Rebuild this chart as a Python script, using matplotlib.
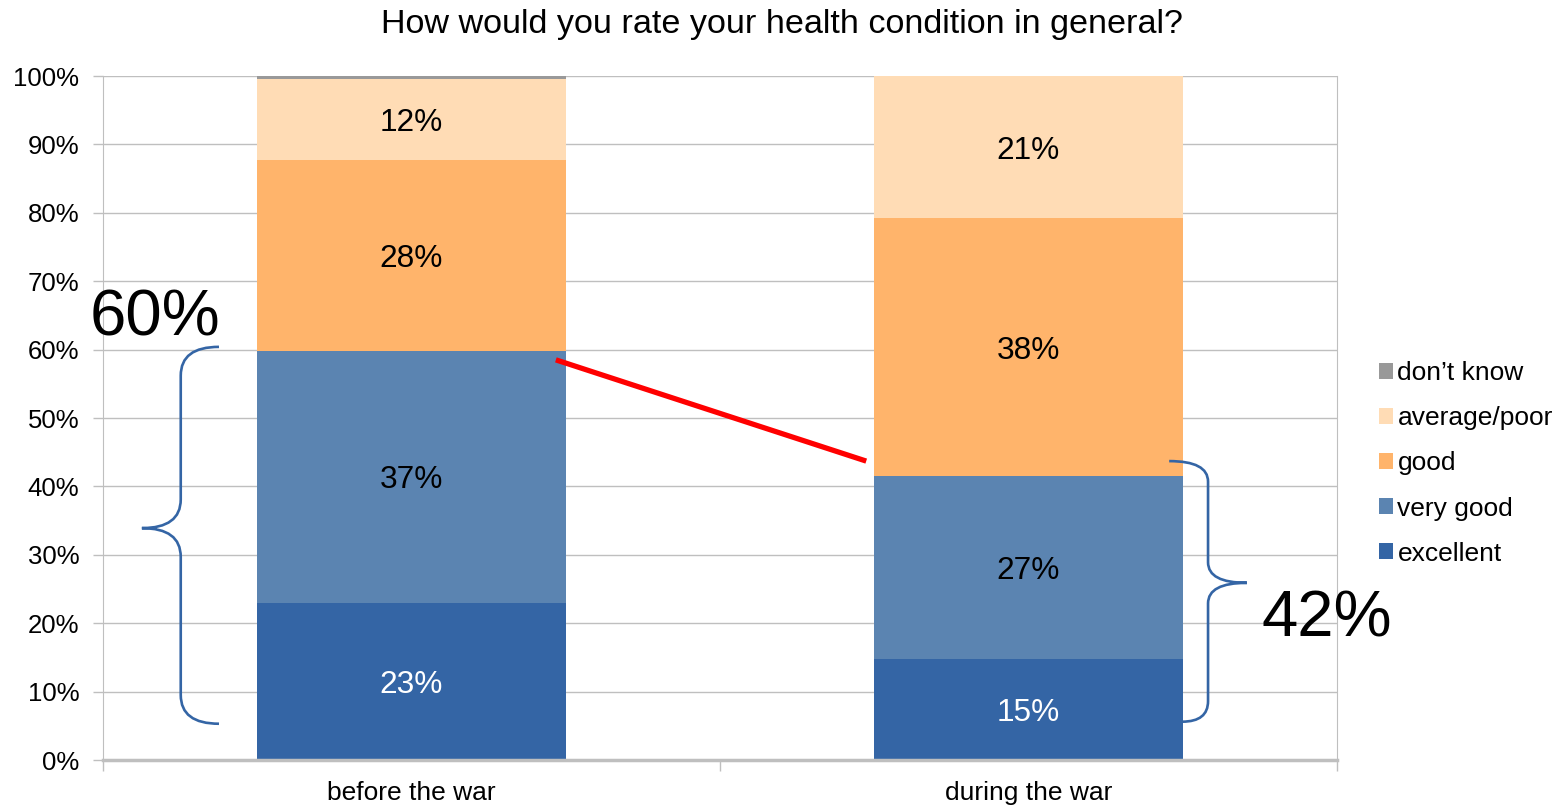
import matplotlib
matplotlib.use("Agg")
import matplotlib.pyplot as plt
from matplotlib.path import Path
from matplotlib.patches import PathPatch
import numpy as np

plt.rcParams['font.family'] = ['Liberation Sans', 'DejaVu Sans']

# ---- data ----
categories = ["before the war", "during the war"]
series_names = ["excellent", "very good", "good", "average/poor", "don\u2019t know"]
excellent = [23.0, 14.8]
very_good = [36.8, 26.7]
good = [27.9, 37.7]
average_poor = [11.9, 20.8]
dont_know = [0.4, 0.0]
y_ticks = [0, 10, 20, 30, 40, 50, 60, 70, 80, 90, 100]
brace_labels = ["60%", "42%"]

colors = ["#3465A5", "#5B84B1", "#FFB46B", "#FFDCB5", "#999999"]
label_colors = ["white", "black", "black", "black", "black"]

series = [excellent, very_good, good, average_poor, dont_know]

fig = plt.figure(figsize=(15.64, 8.05), dpi=100)
ax = fig.add_axes([103/1564, 1-760/805, (1337-103)/1564, (760-76)/805])

x = np.arange(len(categories))
bottom = np.zeros(len(categories))
handles = []
for name, vals, c, lc in zip(series_names, series, colors, label_colors):
    vals = np.array(vals)
    h = ax.bar(x, vals, width=0.5, bottom=bottom, color=c, edgecolor='none', zorder=2, label=name)
    handles.append(h)
    for xi, v, b in zip(x, vals, bottom):
        if v >= 2:
            ax.text(xi, b + v/2 - 0.5, f"{int(round(v))}%", ha='center', va='center',
                    fontsize=22.8, color=lc, zorder=4)
    bottom = bottom + vals

ax.set_xlim(-0.5, 1.5)
ax.set_ylim(0, 100)
ax.set_yticks(y_ticks)
ax.set_yticklabels([f"{t}%" for t in y_ticks], fontsize=18.5)
ax.set_xticks(x)
ax.set_xticklabels(categories, fontsize=19)
ax.set_xticks([-0.5, 0.5, 1.5], minor=True)
ax.tick_params(axis='x', which='major', length=0, pad=15)
ax.tick_params(axis='x', which='minor', length=8, color='#BFBFBF', width=1)
ax.tick_params(axis='y', length=7, color='#BFBFBF', width=1, pad=10)
ax.grid(axis='y', color='#BFBFBF', linewidth=1, zorder=0)
ax.set_axisbelow(True)
ax.spines['top'].set_visible(False)
ax.spines['left'].set_color('#BFBFBF')
ax.spines['right'].set_color('#BFBFBF')
ax.spines['bottom'].set_color('#BFBFBF')
ax.spines['bottom'].set_linewidth(2.5)
ax.spines['bottom'].set_zorder(3)

fig.suptitle("How would you rate your health condition in general?", fontsize=24.6,
             y=1-25/805, va='center')

# legend (reverse order)
leg = ax.legend(handles[::-1], series_names[::-1], loc='center left',
                bbox_to_anchor=(1.0105, 0.4335),
                frameon=False, fontsize=19, handlelength=0.55, handleheight=0.55,
                handletextpad=0.15, labelspacing=0.8, borderaxespad=0.7)

# red connecting line
ax.plot([0.234, 0.737], [58.5, 43.7], color='#FF0000', linewidth=3.8, zorder=5,
        solid_capstyle='butt', clip_on=False)

def brace(ax, x_end, x_spine, x_tip, y_top, y_mid, y_bot, ry, x_end_bot=None):
    if x_end_bot is None:
        x_end_bot = x_end
    verts = [
        (x_end, y_top), (x_spine, y_top), (x_spine, y_top - ry),
        (x_spine, y_mid + ry),
        (x_spine, y_mid), (x_tip, y_mid),
        (x_spine, y_mid), (x_spine, y_mid - ry),
        (x_spine, y_bot + ry),
        (x_spine, y_bot), (x_end_bot, y_bot),
    ]
    codes = [Path.MOVETO, Path.CURVE3, Path.CURVE3, Path.LINETO,
             Path.CURVE3, Path.CURVE3, Path.CURVE3, Path.CURVE3,
             Path.LINETO, Path.CURVE3, Path.CURVE3]
    p = PathPatch(Path(verts, codes), facecolor='none', edgecolor='#3465A5',
                  linewidth=1.9, clip_on=False, zorder=5)
    ax.add_patch(p)

brace(ax, -0.312, -0.374, -0.437, 60.4, 33.9, 5.3, 4.2)
brace(ax, 1.228, 1.291, 1.354, 43.7, 25.9, 5.6, 3.0, x_end_bot=1.249)

ax.text(-0.416, 64.5, brace_labels[0], fontsize=47, ha='center', va='center', zorder=6)
ax.text(1.484, 20.6, brace_labels[1], fontsize=47, ha='center', va='center', zorder=6)

fig.savefig("out.png", dpi=100)
